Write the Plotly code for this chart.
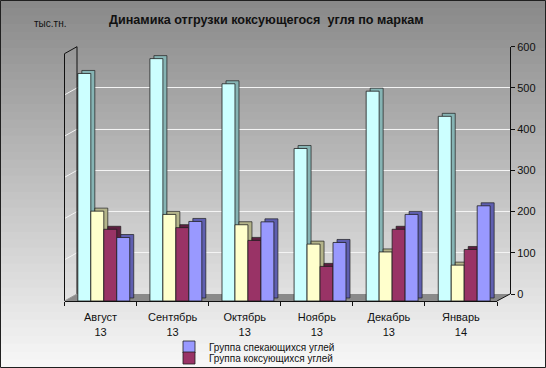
import plotly.graph_objects as go

# ---------------- data ----------------
categories = ["Август<br>13", "Сентябрь<br>13", "Октябрь<br>13",
              "Ноябрь<br>13", "Декабрь<br>13", "Январь<br>14"]
cyan_vals = [552, 588, 527, 370, 509, 448]
yellow_vals = [218, 210, 185, 138, 119, 87]
maroon_vals = [174, 178, 147, 84, 174, 125]
blue_vals = [154, 193, 192, 142, 210, 231]
name_cyan = "Ряд 1"
name_yellow = "Ряд 2"
name_maroon = "Группа коксующихся углей"
name_blue = "Группа спекающихся углей"
y_ticks = [0, 100, 200, 300, 400, 500, 600]

# ---------------- geometry helpers ----------------
W, H = 546, 368
def fx(p): return p / W
def fy(p): return 1 - p / H

K = 0.4122          # pixels per unit
FRONT_Y = 301.0     # front floor line
BACK_Y = 294.0      # back wall zero
FRONT_L, FRONT_R = 64.5, 497.0
BACK_L, BACK_R = 77.0, 510.0
Y2_MAX = 620

fig = go.Figure()

# invisible trace so that the back-wall subplot (grid + right axis) is drawn
fig.add_trace(go.Scatter(x=[None], y=[None], xaxis="x", yaxis="y",
                         mode="markers", showlegend=False, hoverinfo="skip"))

bw = 0.18
dx = 4.0 / 72.0      # side-face depth in category units
dy = 3.0 / K         # top-face depth in value units
series = [
    (name_cyan, cyan_vals, "#CCFFFF", "#86B4B4", -0.315, False, None),
    (name_yellow, yellow_vals, "#FFFFCC", "#B4B48A", -0.135, False, None),
    (name_maroon, maroon_vals, "#993366", "#5E1F40", 0.045, True, "legend2"),
    (name_blue, blue_vals, "#9999FF", "#5F5FB0", 0.225, True, "legend"),
]
for name, vals, face, side, off, show, leg in series:
    fig.add_trace(go.Bar(
        x=categories, y=vals, base=dy, offset=off + dx, width=bw,
        marker=dict(color=side, line=dict(color="#1e1e1e", width=0.7)),
        xaxis="x2", yaxis="y2", showlegend=False, hoverinfo="skip"))
    kw = dict(legend=leg) if leg else {}
    fig.add_trace(go.Bar(
        x=categories, y=vals, offset=off, width=bw, name=name,
        marker=dict(color=face, line=dict(color="#1e1e1e", width=0.8)),
        xaxis="x2", yaxis="y2", showlegend=show, **kw))

# ---------------- background gradient ----------------
shapes = []
n = 46
top_c, bot_c = 136, 248
for i in range(n):
    y0 = i * H / n
    y1 = (i + 1) * H / n
    t = (y0 + y1) / 2 / H
    c = int(round(top_c + (bot_c - top_c) * t))
    shapes.append(dict(type="rect", xref="paper", yref="paper", layer="below",
                       x0=0, x1=1, y0=fy(y1) - 0.001, y1=fy(y0) + 0.001,
                       fillcolor=f"rgb({c},{c},{c})", line=dict(width=0)))

# floor
shapes.append(dict(type="path", xref="paper", yref="paper", layer="below",
                   path=f"M {fx(FRONT_L)},{fy(FRONT_Y)} L {fx(FRONT_R)},{fy(FRONT_Y)} "
                        f"L {fx(BACK_R)},{fy(BACK_Y)} L {fx(BACK_L)},{fy(BACK_Y)} Z",
                   fillcolor="#8a8a8a", line=dict(width=0)))
# left wall grid diagonals
for v in y_ticks[1:-1]:
    shapes.append(dict(type="line", xref="paper", yref="paper", layer="below",
                       x0=fx(FRONT_L), y0=fy(FRONT_Y - v * K),
                       x1=fx(BACK_L), y1=fy(BACK_Y - v * K),
                       line=dict(color="#f4f4f4", width=1)))
top_front = FRONT_Y - 600 * K
top_back = BACK_Y - 600 * K
for (x0, y0, x1, y1, col) in [
    (FRONT_L, FRONT_Y, FRONT_L, top_front, "#111111"),
    (FRONT_L, top_front, BACK_L, top_back, "#111111"),
    (BACK_L, top_back, BACK_L, BACK_Y, "#111111"),
    (FRONT_L, FRONT_Y, BACK_L, BACK_Y, "#9a9a9a"),
    (FRONT_R, FRONT_Y, BACK_R, BACK_Y, "#111111"),
]:
    shapes.append(dict(type="line", xref="paper", yref="paper", layer="above",
                       x0=fx(x0), y0=fy(y0), x1=fx(x1), y1=fy(y1),
                       line=dict(color=col, width=1)))
# outer border
shapes.append(dict(type="rect", xref="paper", yref="paper", layer="above",
                   x0=fx(0.5), x1=fx(W - 0.5), y0=fy(H - 0.5), y1=fy(0.5),
                   line=dict(color="#202020", width=1)))

font = "Arial, Liberation Sans, sans-serif"
leg_common = dict(xanchor="left", yanchor="middle", bgcolor="rgba(0,0,0,0)",
                  font=dict(size=10, color="#111111"), tracegroupgap=0)
fig.update_layout(
    width=W, height=H, autosize=False,
    margin=dict(l=0, r=0, t=0, b=0, autoexpand=False),
    paper_bgcolor="#c0c0c0",
    plot_bgcolor="rgba(0,0,0,0)",
    barmode="overlay",
    shapes=shapes,
    font=dict(family=font, color="#111111"),
    xaxis=dict(domain=[fx(BACK_L), fx(BACK_R)], range=[0, 1], visible=False,
               fixedrange=True, anchor="y"),
    yaxis=dict(domain=[fy(BACK_Y), fy(BACK_Y - 600 * K)], range=[0, 600],
               side="right", anchor="x", tickvals=y_ticks,
               showgrid=True, gridcolor="#f4f4f4", gridwidth=1,
               showline=True, linecolor="#111111", linewidth=1,
               ticks="outside", ticklen=4, tickcolor="#111111",
               tickfont=dict(size=11, color="#111111"), zeroline=False),
    xaxis2=dict(domain=[fx(FRONT_L), fx(FRONT_R)], anchor="y2", type="category",
                categoryorder="array", categoryarray=categories,
                range=[-0.5, 5.5], tickson="boundaries",
                ticks="outside", ticklen=4, tickcolor="#111111",
                ticklabelstandoff=6,
                showline=True, linecolor="#111111", linewidth=1,
                tickfont=dict(size=11, color="#111111"), showgrid=False),
    yaxis2=dict(domain=[fy(FRONT_Y), fy(FRONT_Y - Y2_MAX * K)], anchor="x2",
                range=[0, Y2_MAX], visible=False, showgrid=False),
    legend=dict(x=fx(169), y=fy(347), **leg_common),
    legend2=dict(x=fx(169), y=fy(358), **leg_common),
    annotations=[
        dict(text="<b>Динамика отгрузки коксующегося  угля по маркам</b>",
             xref="paper", yref="paper", x=fx(266), y=fy(20),
             xanchor="center", yanchor="middle", showarrow=False,
             font=dict(size=12.6, color="#111111")),
        dict(text="тыс.тн.", xref="paper", yref="paper", x=fx(50), y=fy(24),
             xanchor="center", yanchor="middle", showarrow=False,
             font=dict(size=10, color="#111111")),
    ],
)

post = (
    "var d=document;"
    "d.documentElement.style.cssText='margin:0;padding:0;overflow:hidden;';"
    "d.body.style.cssText='margin:0;padding:0;overflow:hidden;';"
)
fig.write_html("out.html",
               config={"displayModeBar": False, "responsive": False},
               post_script=post)
